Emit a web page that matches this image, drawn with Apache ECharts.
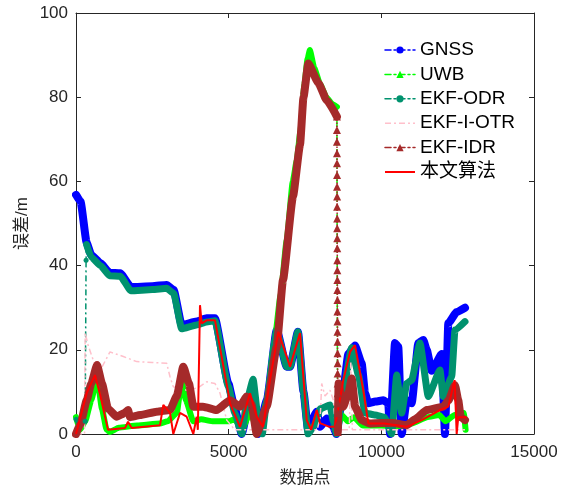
<!DOCTYPE html>
<html>
<head>
<meta charset="utf-8">
<script src="https://cdn.jsdelivr.net/npm/echarts@6/dist/echarts.min.js"></script>
<style>
  html, body { margin: 0; padding: 0; background: #fff; }
  #chart { width: 571px; height: 493px; }
</style>
</head>
<body>
<div id="chart"></div>
<script>
var chartDom = document.getElementById('chart');
var myChart = echarts.init(chartDom);
var option;

// x = data point index, y = error in metres
let gnss = [[0,56.8],[150,55.2],[350,45.4],[500,42.5],[800,40.6],[1100,38.3],[1450,38.2],[1800,34.9],[2500,35.1],[2970,35.4],[3200,34.2],[3460,25.9],[3950,26.7],[4280,27.5],[4550,27.5],[4990,12],[5200,6],[5430,0],[5600,5],[5800,10],[5960,0],[6250,8],[6573,24.7],[6900,16],[7010,16],[7270,24.3],[7450,10],[7600,1],[7883,5.3],[7991,1.7],[8211,3.7],[8427,1.7],[8530,0],[8744,10],[8918,19],[9137,21],[9357,16.8],[9465,9.7],[9573,7.3],[9800,7.7],[10064,8],[10228,7.3],[10284,0],[10447,21.6],[10555,20.7],[10667,0],[10830,8],[10994,7.3],[11212,21.6],[11374,22.3],[11486,20],[11649,15],[11977,19],[12085,0],[12193,26.3],[12468,29],[12740,30]];

let uwb = [[0,4],[130,1],[300,3],[500,8],[690,13.6],[850,6],[1000,1],[1110,0.5],[1400,1.5],[2000,2],[2750,2.5],[3000,3],[3300,5],[3460,12.5],[3600,8],[3840,3],[4100,3.5],[4500,3],[5000,3],[5200,3.5],[5430,1],[5700,5],[5960,1],[6100,4],[6250,8],[6500,22],[6700,33],[6900,46],[7100,60],[7230,65],[7350,72],[7480,83],[7580,89],[7660,91.2],[7800,87],[8000,83],[8200,80],[8400,78.3],[8545,77.7]];
let uwbDrop = [[8545,77.7],[8565,1]];
let uwbTail = [[8565,1],[8700,4.5],[8900,3],[9100,4],[9400,2],[10000,2],[10500,1.8],[11000,2.5],[11500,4],[11900,4.5],[12100,3],[12400,4.5],[12700,5],[12760,1]];

let odrHead = [[0,3.5],[150,2],[300,3]];
let odrJump = [[300,3],[330,41.3],[345,45]];
let odr = [[345,45],[500,42],[800,40],[1100,37.6],[1450,37.5],[1800,34],[2500,34.3],[2970,34.6],[3200,33.4],[3460,25],[3950,25.9],[4280,26.6],[4550,26.9],[4990,11.3],[5200,5],[5430,0],[5600,8],[5800,13],[5960,4],[6100,0],[6250,8],[6573,24.5],[6900,16],[7010,16],[7270,24.3],[7450,10],[7600,0],[7800,2],[8000,6],[8319,6.9],[8427,3],[8530,0],[8744,10],[9029,20.5],[9250,14],[9465,5],[9800,4.5],[10100,4],[10340,0],[10503,14],[10667,5],[10830,12],[10994,12.8],[11266,21.6],[11538,8.9],[11921,15.2],[12029,8.9],[12304,13.6],[12412,24.7],[12740,26.7]];

let otr = [[0,0],[280,0],[300,24],[400,21],[600,16.8],[800,15.2],[1113,19.5],[1549,18.4],[1988,17.2],[2500,17],[2970,16.8],[3079,13.6],[3187,11.2],[3625,10.4],[4000,11],[4280,12.4],[4552,12],[4716,9.7],[4935,3.3],[5200,1],[6000,1],[7000,1],[7900,1],[8000,4],[8047,12],[8155,9],[8319,10.4],[8430,8],[8500,1],[8950,1],[9000,17],[9050,1],[10000,1],[11000,1],[12000,1],[12740,1]];

let idr = [[0,0],[150,2.5],[350,8],[500,12],[690,16.4],[850,12],[1050,6],[1333,4.1],[1600,5],[1703,5.7],[1769,4],[2100,4.5],[2643,5.3],[3079,5.7],[3300,9],[3514,16],[3700,12],[3842,6.5],[4159,6.5],[4608,5.7],[5044,8],[5371,6.5],[5590,8.9],[5750,7],[5918,0],[6246,6.5],[6573,20.7],[6779,36.6],[7107,56.4],[7336,68.6],[7450,80],[7608,88],[7935,83.4],[8211,79.3],[8545,75.4]];
let idrDrop = [[8545,75.4],[8546,72.2],[8547,69.4],[8548,66.7],[8549,64.3],[8550,61.5],[8551,58.7],[8552,56.4],[8553,54.0],[8554,51.2],[8555,48.9],[8556,46.5],[8557,44.1],[8558,41.3],[8559,38.9],[8560,36.6],[8561,34.2],[8562,31.8],[8563,29.1],[8564,26.7],[8565,24.3],[8566,21.9],[8567,19.2],[8568,16.8],[8569,14.4],[8570,12.0],[8571,9.7],[8572,7.3],[8573,4.9],[8574,2.5],[8575,0.5]];
let idrTail = [[8575,0.5],[8600,12],[8750,6.5],[8920,9.7],[9030,13.2],[9140,6.5],[9360,3.3],[9600,2.5],[10000,2.6],[10382,2.6],[10830,2.1],[11100,3.5],[11486,5.7],[12029,6.5],[12200,8],[12412,11.6],[12520,8],[12600,4],[12740,3.3]];

let ours = [[0,0],[350,9.7],[622,14],[800,9],[1048,1],[1605,1.4],[1703,2.9],[1824,1.4],[2751,2.1],[2860,6.9],[3079,5],[3187,0],[3406,5],[3625,4.1],[3842,0],[3953,4.1],[3990,1],[4061,30.6],[4117,26.3],[4280,27],[4552,27],[4988,9.7],[5044,7.3],[5371,1.7],[5699,9.7],[5918,4.1],[6124,1.7],[6353,12.8],[6627,24.3],[7009,16],[7336,24],[7556,3.3],[7700,1],[7883,5.7],[7991,2.6],[8300,1.7],[8480,1.7],[8755,12.8],[8974,19.5],[9137,21.1],[9409,10.4],[9573,2.5],[10100,2.5],[10830,1.7],[11322,3.3],[11921,5.7],[12193,6.5],[12400,12.8],[12468,0],[12520,4],[12796,4]];

let names = ['GNSS', 'UWB', 'EKF-ODR', 'EKF-I-OTR', 'EKF-IDR', '本文算法'];
let colors = ['#0000ff', '#00ff00', '#00926e', '#ffc0cb', '#a52a2a', '#ff0000'];
let dashDot = [6, 3, 2, 3];
let axisColor = '#262626';
let font = "'Liberation Sans', 'Noto Sans CJK SC', sans-serif";

function band(i, data, width, symbol) {
  return {
    name: names[i], type: 'line', data: data,
    symbol: symbol, showSymbol: false, silent: true,
    smooth: 0.15, smoothMonotone: 'x',
    lineStyle: { color: colors[i], width: width, cap: 'round', join: 'round' },
    itemStyle: { color: colors[i] }
  };
}

function thin(i, data, type, symbol, size) {
  return {
    name: names[i], type: 'line', data: data,
    symbol: symbol, symbolSize: size, showSymbol: symbol !== 'none', silent: true,
    lineStyle: { color: colors[i], width: 1.5, type: type },
    itemStyle: { color: colors[i] }
  };
}

function legendItem(i, symbolOn, type, width) {
  return {
    name: names[i],
    itemStyle: symbolOn ? { color: colors[i], borderWidth: 0 } : { color: 'transparent', borderWidth: 0, opacity: 0 },
    lineStyle: { color: colors[i], width: width, type: type }
  };
}

function sideAxis(pos, extra) {
  return Object.assign({
    type: 'value', position: pos,
    axisLine: { show: true, onZero: false, lineStyle: { color: axisColor, width: 1 } },
    axisTick: { show: true, inside: true, length: 5, lineStyle: { color: axisColor } },
    splitLine: { show: false }
  }, extra);
}

option = {
  animation: false,
  backgroundColor: '#ffffff',
  grid: { left: 76, right: 37, top: 13, bottom: 59 },
  legend: {
    orient: 'vertical', left: 379, top: 35,
    itemWidth: 30, itemHeight: 9, itemGap: 4.4,
    selectedMode: false,
    textStyle: { fontSize: 19, color: '#000', fontFamily: font, lineHeight: 20 },
    data: [
      legendItem(0, true, dashDot, 1.5),
      legendItem(1, true, dashDot, 1.5),
      legendItem(2, true, dashDot, 1.5),
      legendItem(3, false, dashDot, 1.5),
      legendItem(4, true, dashDot, 1.5),
      legendItem(5, false, 'solid', 2)
    ]
  },
  xAxis: [
    sideAxis('bottom', {
      min: 0, max: 15000, interval: 5000,
      name: '数据点', nameLocation: 'middle', nameGap: 36, nameMoveOverlap: false,
      nameTextStyle: { fontSize: 17, color: axisColor, fontFamily: font },
      axisLabel: { fontSize: 17, color: axisColor, margin: 10, fontFamily: font,
        formatter: function (v) { return String(v); } }
    }),
    sideAxis('top', { min: 0, max: 15000, interval: 5000, axisLabel: { show: false } })
  ],
  yAxis: [
    sideAxis('left', {
      min: 0, max: 100, interval: 20,
      name: '误差/m', nameLocation: 'middle', nameGap: 45, nameMoveOverlap: false,
      nameTextStyle: { fontSize: 17, color: axisColor, fontFamily: font },
      axisLabel: { fontSize: 17, color: axisColor, margin: 8, fontFamily: font }
    }),
    sideAxis('right', { min: 0, max: 100, interval: 20, axisLabel: { show: false } })
  ],
  series: [
    band(0, gnss, 8, 'circle'),
    band(1, uwb, 6, 'triangle'),
    thin(1, uwbDrop, dashDot, 'none', 0),
    band(1, uwbTail, 6, 'triangle'),
    band(2, odr, 7, 'circle'),
    band(2, odrHead, 5, 'circle'),
    thin(2, odrJump, dashDot, 'circle', 5),
    thin(3, otr, dashDot, 'none', 0),
    band(4, idr, 8, 'triangle'),
    thin(4, idrDrop, 'dotted', 'triangle', 8),
    band(4, idrTail, 8, 'triangle'),
    Object.assign(band(5, ours, 2, 'none'), { smooth: false, lineStyle: { color: colors[5], width: 2 } })
  ]
};

option && myChart.setOption(option);
</script>
</body>
</html>
